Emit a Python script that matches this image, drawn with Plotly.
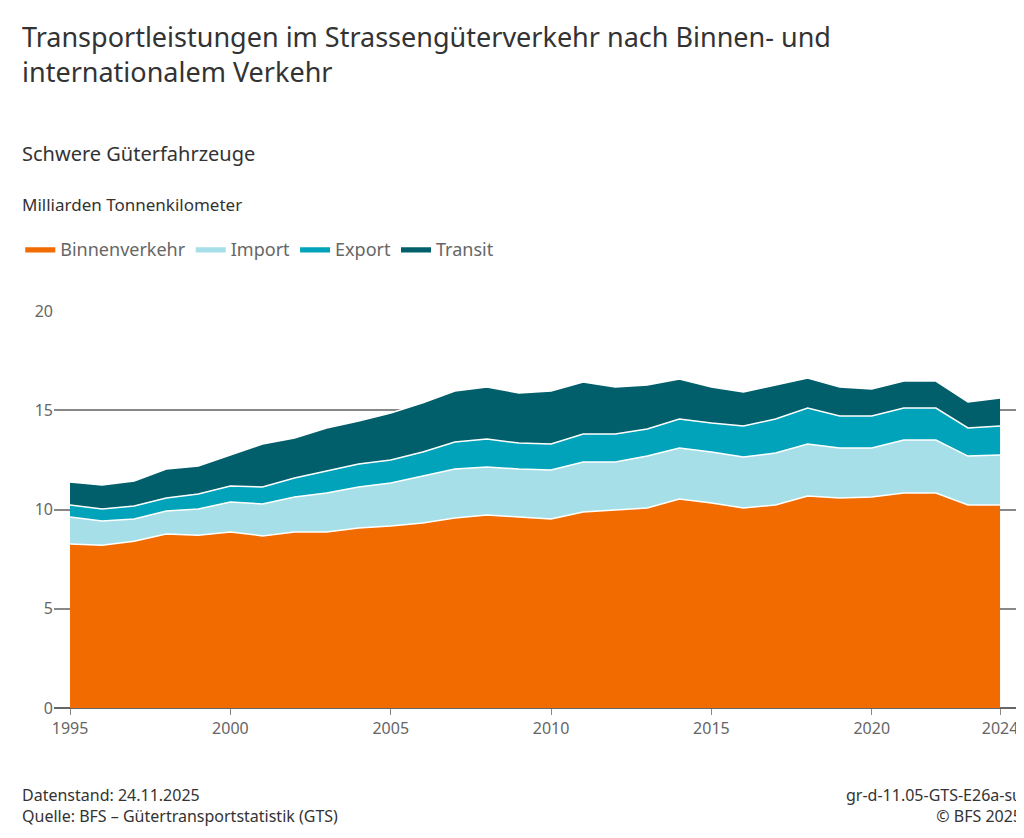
import plotly.graph_objects as go

years = list(range(1995, 2025))
# cumulative upper edges of the stacked areas, billion tkm
binnen_top = [8.26, 8.2, 8.4, 8.77, 8.7, 8.87, 8.67, 8.87, 8.87, 9.07, 9.17, 9.32, 9.57, 9.72, 9.62,
              9.52, 9.87, 9.97, 10.08, 10.53, 10.33, 10.08, 10.23, 10.68, 10.58, 10.63, 10.83, 10.83, 10.23, 10.23]
import_top = [9.62, 9.42, 9.52, 9.92, 10.03, 10.38, 10.28, 10.63, 10.83, 11.13, 11.33, 11.69, 12.04, 12.14, 12.04,
              11.99, 12.39, 12.39, 12.69, 13.1, 12.9, 12.64, 12.85, 13.3, 13.1, 13.1, 13.5, 13.5, 12.69, 12.75]
export_top = [10.23, 10.03, 10.18, 10.58, 10.78, 11.18, 11.13, 11.59, 11.94, 12.29, 12.49, 12.9, 13.4, 13.55, 13.35,
              13.3, 13.8, 13.8, 14.06, 14.56, 14.36, 14.21, 14.56, 15.11, 14.71, 14.71, 15.11, 15.11, 14.11, 14.21]
transit_top = [11.39, 11.23, 11.44, 12.04, 12.19, 12.75, 13.3, 13.6, 14.11, 14.46, 14.86, 15.37, 15.97, 16.17, 15.87,
               15.97, 16.42, 16.17, 16.27, 16.57, 16.17, 15.92, 16.27, 16.62, 16.17, 16.07, 16.47, 16.47, 15.42, 15.62]

series = [("Binnenverkehr", binnen_top, "#f26b00"),
          ("Import", import_top, "#a6dfe8"),
          ("Export", export_top, "#00a3ba"),
          ("Transit", transit_top, "#005f6b")]

fig = go.Figure()
for i, (name, vals, col) in enumerate(series):
    fig.add_trace(go.Scatter(
        x=years, y=vals, name=name, mode="lines",
        line=dict(color="white", width=1.5),
        fill="tozeroy" if i == 0 else "tonexty", fillcolor=col,
    ))

font = "Noto Sans"
fig.update_layout(
    width=1024, height=838,
    paper_bgcolor="white", plot_bgcolor="white",
    font=dict(family=font, color="#333", size=17),
    margin=dict(l=42, r=14, t=303, b=138),
    showlegend=True,
    legend=dict(orientation="h", x=-0.035, y=1.11, xanchor="left", yanchor="bottom",
                font=dict(size=18, color="#666"), itemwidth=30, traceorder="normal"),
    xaxis=dict(range=[1994.5, 2024.56], tickvals=[1995, 2000, 2005, 2010, 2015, 2020, 2024],
               ticks="outside", ticklen=6, tickcolor="#888", showgrid=False,
               showline=False, tickfont=dict(size=16, color="#666"), zeroline=False),
    yaxis=dict(range=[0, 20], tickvals=[0, 5, 10, 15, 20], showgrid=True, gridcolor="#888",
               gridwidth=1.5, zeroline=True, zerolinecolor="#666", zerolinewidth=1.5,
               tickfont=dict(size=16, color="#666"), ticklabelposition="outside", ticklen=0),
)

anns = [
    (0.008, 0.99, "Transportleistungen im Strassengüterverkehr nach Binnen- und<br>internationalem Verkehr", 27, "#333", "left"),
    (0.008, 0.845, "Schwere Güterfahrzeuge", 20, "#333", "left"),
    (0.008, 0.782, "Milliarden Tonnenkilometer", 17, "#333", "left"),
    (0.008, 0.076, "Datenstand: 24.11.2025<br>Quelle: BFS – Gütertransportstatistik (GTS)", 16, "#333", "left"),
    (0.992, 0.076, "gr-d-11.05-GTS-E26a-su<br>© BFS 2025", 16, "#333", "right"),
]
for x, y, t, s, c, al in anns:
    fig.add_annotation(xref="paper", yref="paper", x=x, y=y, text=t, showarrow=False,
                       xanchor=al, yanchor="top", align=al, font=dict(size=s, color=c, family=font))
# annotations placed relative to whole page
for a in fig.layout.annotations:
    a.update(xref="paper", yref="paper")
fig.layout.annotations = []
for x, y, t, s, c, al in anns:
    fig.add_annotation(x=x * 1024, y=y * 838, xref="x domain", yref="y domain", text=t, showarrow=False)
fig.layout.annotations = []
plot_w, plot_h = 1024 - 42 - 14, 838 - 303 - 138
for x, y, t, s, c, al in anns:
    fig.add_annotation(xref="paper", yref="paper",
                       x=(x * 1024 - 42) / plot_w, y=(y * 838 - 138) / plot_h,
                       text=t, showarrow=False, xanchor=al, yanchor="top", align=al,
                       font=dict(size=s, color=c, family=font))

fig.write_html("out.html")
